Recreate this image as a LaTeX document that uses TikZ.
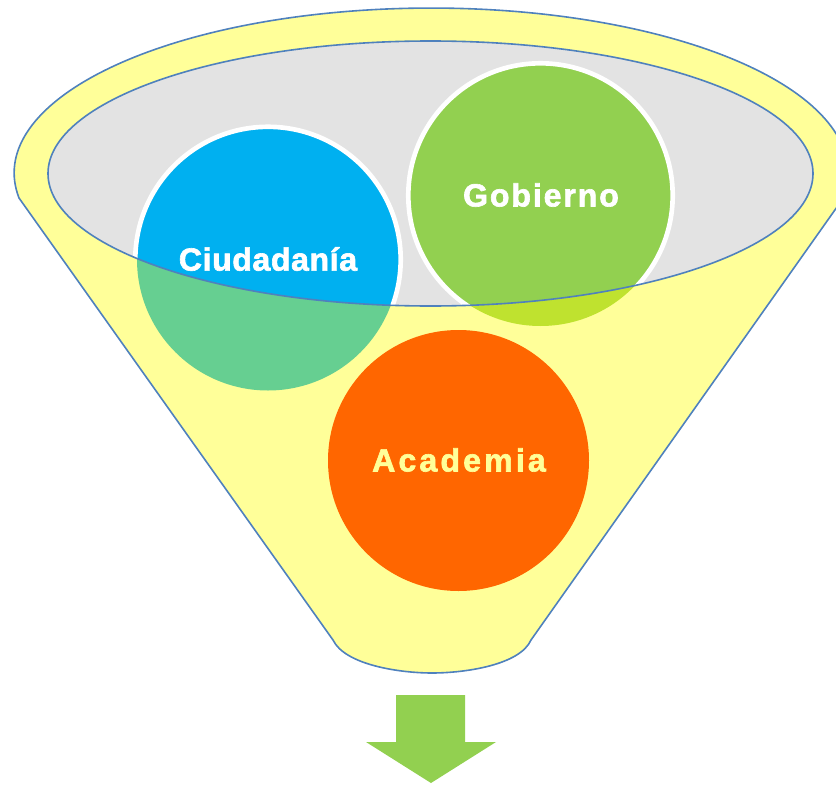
\documentclass[tikz,border=0pt]{standalone}
\usepackage{fontspec}
\setmainfont{Liberation Sans}[FakeBold=2]
\newfontfamily\ciudfont{Liberation Sans}[LetterSpace=2,FakeBold=2]
\newfontfamily\gobfont{Liberation Sans}[LetterSpace=6,FakeBold=2]
\newfontfamily\acadfont{Liberation Sans}[LetterSpace=10,FakeBold=2]
\definecolor{funnelyellow}{HTML}{FFFF99}
\definecolor{edgeblue}{HTML}{4F81BD}
\definecolor{topgray}{HTML}{E3E3E3}
\definecolor{cblue}{HTML}{00B0F0}
\definecolor{cgreen}{HTML}{92D050}
\definecolor{corange}{HTML}{FF6600}
\definecolor{mixblue}{HTML}{66CF91}
\definecolor{mixgreen}{HTML}{BFE22F}
\tikzset{
  edge/.style={draw=edgeblue,line width=1.2pt},
  label/.style={font=\bfseries\fontsize{24}{28}\selectfont,inner sep=0pt},
  ring/.style={draw=white,line width=3.5pt}
}
\begin{document}
\begin{tikzpicture}[x=0.75pt,y=-0.75pt]
\useasboundingbox (0,0) rectangle (836,785);
\clip (0,0) rectangle (836,785);
% funnel body
\path[fill=funnelyellow,edge] (19,198) arc[start angle=171.3,end angle=368.7,x radius=417,y radius=165]
  -- (531,640) .. controls (520,665) and (465,673) .. (432,673)
  .. controls (400,673) and (345,665) .. (333,640) -- cycle;
% inner top ellipse
\fill[topgray] (430.5,173.5) ellipse[x radius=382.5,y radius=132.5];
% lower (blended) parts of the circles
\fill[mixblue] (268,259.5) circle[radius=131];
\fill[mixgreen] (540.5,195.5) circle[radius=130.5];
\fill[corange] (458.5,460.5) circle[radius=130.5];
% upper parts inside the ellipse
\begin{scope}
\clip (430.5,173.5) ellipse[x radius=382.5,y radius=132.5];
\fill[cblue] (268,259.5) circle[radius=131];
\draw[ring] (268,259.5) circle[radius=132.7];
\fill[cgreen] (540.5,195.5) circle[radius=130.5];
\draw[ring] (540.5,195.5) circle[radius=132.2];
\end{scope}
\draw[edge] (430.5,173.5) ellipse[x radius=382.5,y radius=132.5];
% labels
\node[label,text=white] (ciud) at (268,259) {\ciudfont Ciudadanía};
\node[label,text=white] (gob) at (541,195) {\gobfont Gobierno};
\node[label,text=funnelyellow] (acad) at (459,460) {\acadfont Academia};
% output arrow
\fill[cgreen] (396,695) -- (465,695) -- (465,742) -- (496,742) -- (431,783)
  -- (366,742) -- (396,742) -- cycle;
\end{tikzpicture}
\end{document}
